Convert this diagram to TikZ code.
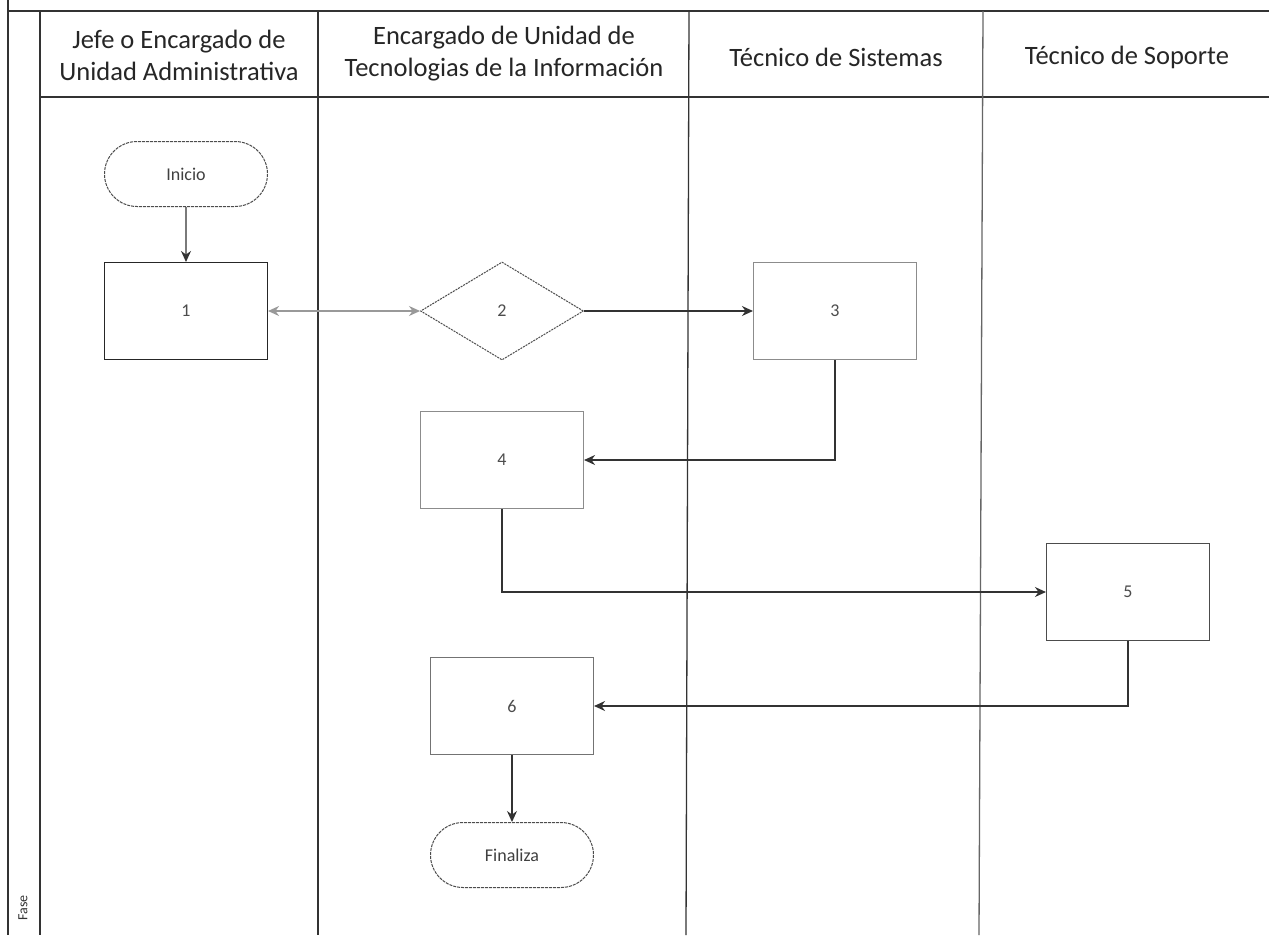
\documentclass[tikz,border=0pt]{standalone}
\usepackage{fontspec}
\setmainfont{Carlito}
\usetikzlibrary{shapes.geometric,shapes.misc,arrows.meta}
\begin{document}
\begin{tikzpicture}[x=1pt,y=-1pt,
  lane/.style={draw=black!80,line width=1.3pt},
  hdr/.style={font=\fontsize{26.5}{32}\selectfont,align=center,text=black!85},
  proc/.style={draw=#1,line width=1.1pt,rectangle,minimum width=163pt,minimum height=97pt,inner sep=0pt,font=\fontsize{18}{20}\selectfont,text=black!70},
  proc/.default=black!85,
  term/.style={draw=black!70,line width=1pt,dash pattern=on 3pt off 1pt,rounded rectangle,minimum width=163pt,minimum height=65pt,inner sep=0pt,font=\fontsize{18}{20}\selectfont,text=black!75},
  dec/.style={draw=black!70,line width=1pt,dash pattern=on 2pt off 1pt,diamond,minimum width=163pt,minimum height=98pt,inner sep=0pt,font=\fontsize{18}{20}\selectfont,text=black!70},
  flow/.style={draw=black!80,line width=1.2pt,-{Stealth[length=11pt,width=10pt]}},
  lite/.style={draw=black!40,line width=1.2pt,{Stealth[length=11pt,width=10pt]}-{Stealth[length=11pt,width=10pt]}}
]
\useasboundingbox (0,0) rectangle (1269,935);
\fill[white] (0,0) rectangle (1269,935);
% frame
\draw[lane] (8,0) -- (8,935);
\draw[lane] (8,11) -- (1269,11);
\draw[lane] (40,11) -- (40,935);
\draw[lane] (40,97) -- (1269,97);
\draw[lane] (318,11) -- (318,935);
\draw[lane] (689,11) -- (686,935);
\draw[lane,draw=black!60] (983,11) -- (979,935);
% headers
\node[hdr] (h1) at (179,55) {Jefe o Encargado de\\Unidad Administrativa};
\node[hdr] (h2) at (504,54) {Encargado de Unidad de\\Tecnologias de la Información};
\node[hdr] (h3) at (836,57) {Técnico de Sistemas};
\node[hdr] (h4) at (1127,57) {Técnico de Soporte};
\node[rotate=90,font=\fontsize{14}{16}\selectfont,text=black!80] (fase) at (23,908) {Fase};
% nodes
\node[term] (ini) at (186,174) {Inicio};
\node[proc] (n1) at (186,311) {1};
\node[dec] (n2) at (502,311) {2};
\node[proc=black!45] (n3) at (835,311) {3};
\node[proc=black!45] (n4) at (502,460) {4};
\node[proc=black!70] (n5) at (1128,592) {5};
\node[proc=black!55] (n6) at (512,706) {6};
\node[term] (fin) at (512,855) {Finaliza};
% connectors
\draw[flow] (ini) -- (n1);
\draw[lite] (n1) -- (n2);
\draw[flow] (n2) -- (n3);
\draw[flow] (n3.south) |- (n4.east);
\draw[flow] (n4.south) |- (n5.west);
\draw[flow] (n5.south) |- (n6.east);
\draw[flow] (n6) -- (fin);
\end{tikzpicture}
\end{document}
